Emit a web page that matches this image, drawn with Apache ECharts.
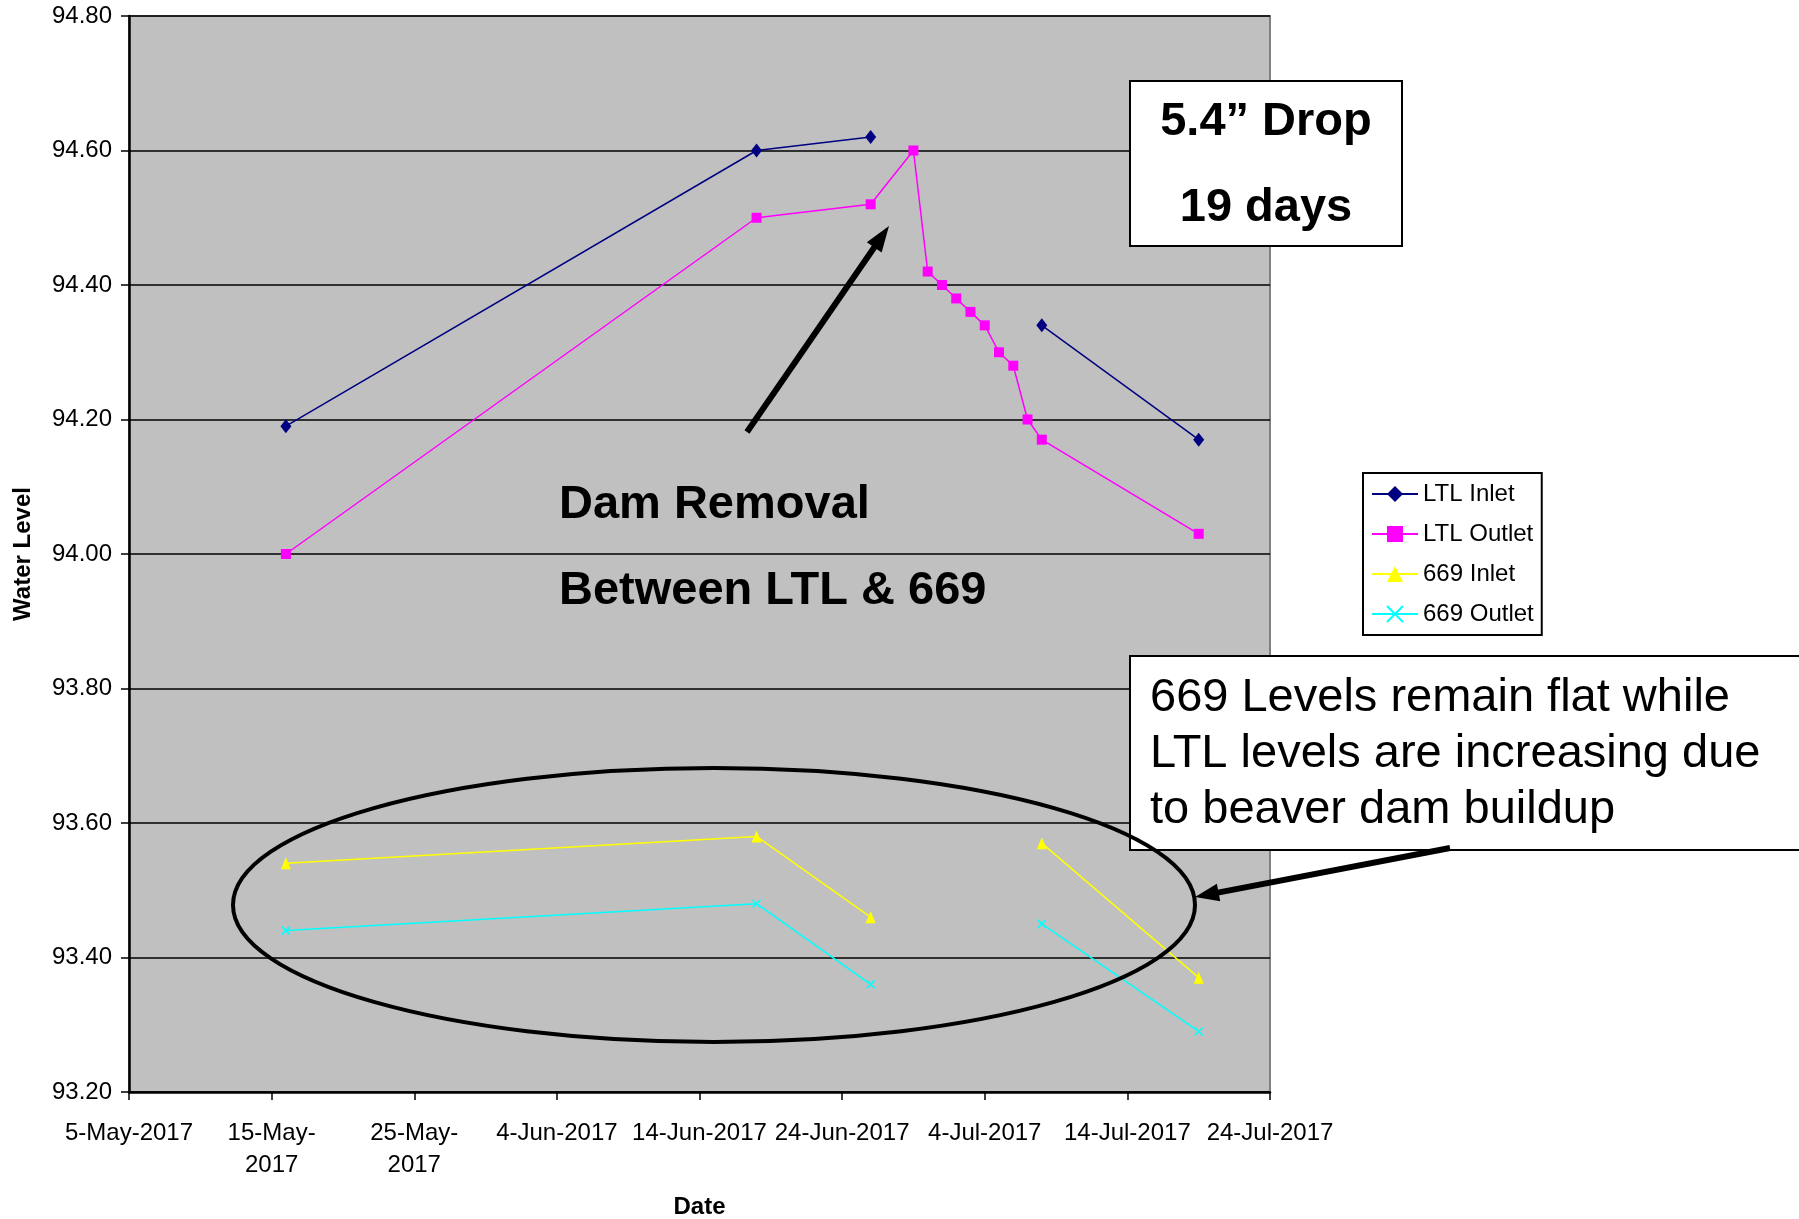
<!DOCTYPE html>
<html>
<head>
<meta charset="utf-8">
<script src="https://cdn.jsdelivr.net/npm/echarts@6/dist/echarts.min.js"></script>
<style>
html,body{margin:0;padding:0;background:#fff;}
#chart{width:1799px;height:1219px;}
</style>
</head>
<body>
<div id="chart"></div>
<script>
// ---- Data ----
const startDate = '2017-05-05';
const dates = ['2017-05-16','2017-06-18','2017-06-26','2017-06-29','2017-06-30','2017-07-01','2017-07-02','2017-07-03','2017-07-04','2017-07-05','2017-07-06','2017-07-07','2017-07-08','2017-07-19'];
const ltlInlet  = [94.19, 94.60, 94.62, null, null, null, null, null, null, null, null, null, 94.34, 94.17];
const ltlOutlet = [94.00, 94.50, 94.52, 94.60, 94.42, 94.40, 94.38, 94.36, 94.34, 94.30, 94.28, 94.20, 94.17, 94.03];
const inlet669  = [93.54, 93.58, 93.46, null, null, null, null, null, null, null, null, null, 93.57, 93.37];
const outlet669 = [93.44, 93.48, 93.36, null, null, null, null, null, null, null, null, null, 93.45, 93.29];
const seriesNames = ['LTL Inlet','LTL Outlet','669 Inlet','669 Outlet'];
const xTickLabels = ['5-May-2017','15-May-\n2017','25-May-\n2017','4-Jun-2017','14-Jun-2017','24-Jun-2017','4-Jul-2017','14-Jul-2017','24-Jul-2017'];
const yMin = 93.2, yMax = 94.8, yStep = 0.2;

// ---- Helpers ----
const DAY = 86400000;
function dayOffset(d){ return (Date.parse(d) - Date.parse(startDate)) / DAY; }
function pairs(vals){ return dates.map((d,i)=>[dayOffset(d), vals[i]==null ? '-' : vals[i]]); }

const FONT = '"Liberation Sans", Arial, sans-serif';

function arrow(x1,y1,x2,y2,w,headLen,headW){
  const dx=x2-x1, dy=y2-y1, L=Math.sqrt(dx*dx+dy*dy), ux=dx/L, uy=dy/L, px=-uy, py=ux;
  const bx=x2-ux*headLen, by=y2-uy*headLen;
  return [
    {type:'line', z:100, shape:{x1:x1,y1:y1,x2:bx+ux*2,y2:by+uy*2}, style:{stroke:'#000',lineWidth:w}},
    {type:'polygon', z:100, shape:{points:[[x2,y2],[bx+px*headW/2,by+py*headW/2],[bx-px*headW/2,by-py*headW/2]]}, style:{fill:'#000'}}
  ];
}

const chart = echarts.init(document.getElementById('chart'), null, {renderer:'canvas'});

const xSymbol = 'path://M0,0L10,10M10,0L0,10';

const option = {
  backgroundColor:'#ffffff',
  animation:false,
  grid:{left:129, top:16, right:529, bottom:127, show:true, backgroundColor:'#C0C0C0', borderColor:'#808080', borderWidth:2, containLabel:false, outerBoundsMode:'none'},
  legend:{
    orient:'vertical', left:1363, top:473,
    data:seriesNames,
    backgroundColor:'#fff', borderColor:'#000', borderWidth:2,
    padding:[7,8,7,8],
    itemWidth:46, itemHeight:20, itemGap:12,
    textStyle:{fontFamily:FONT, fontSize:24, color:'#000', lineHeight:28}
  },
  xAxis:{
    type:'value', min:0, max:80, interval:10,
    name:'Date', nameLocation:'middle', nameGap:103,
    nameTextStyle:{fontFamily:FONT, fontSize:24, fontWeight:'bold', color:'#000'},
    axisLine:{show:true, onZero:false, lineStyle:{color:'#000', width:2.5}},
    axisTick:{show:true, inside:false, length:8, lineStyle:{color:'#000', width:1.5}},
    axisLabel:{fontFamily:FONT, fontSize:24, color:'#000', lineHeight:32, margin:25, showMaxLabel:true, showMinLabel:true,
      formatter:function(v){ return xTickLabels[Math.round(v/10)] || ''; }},
    splitLine:{show:false}
  },
  yAxis:{
    type:'value', min:yMin, max:yMax, interval:yStep,
    name:'Water Level', nameLocation:'middle', nameGap:94, nameRotate:90,
    nameTextStyle:{fontFamily:FONT, fontSize:24, fontWeight:'bold', color:'#000'},
    axisLine:{show:true, lineStyle:{color:'#000', width:2.5}},
    axisTick:{show:true, inside:false, length:8, lineStyle:{color:'#000', width:1.5}},
    axisLabel:{fontFamily:FONT, fontSize:24, color:'#000', margin:17, formatter:function(v){ return v.toFixed(2); }},
    splitLine:{show:true, lineStyle:{color:'#000', width:1.5}}
  },
  series:[
    {name:seriesNames[0], type:'line', data:pairs(ltlInlet), connectNulls:false, symbol:'diamond', symbolSize:[11,14],
      lineStyle:{color:'#000080', width:1.5}, itemStyle:{color:'#000080'}, z:5},
    {name:seriesNames[1], type:'line', data:pairs(ltlOutlet), connectNulls:false, symbol:'rect', symbolSize:10,
      lineStyle:{color:'#FF00FF', width:1.5}, itemStyle:{color:'#FF00FF'}, z:5},
    {name:seriesNames[2], type:'line', data:pairs(inlet669), connectNulls:false, symbol:'triangle', symbolSize:[10,12],
      lineStyle:{color:'#FFFF00', width:1.5}, itemStyle:{color:'#FFFF00'}, z:5},
    {name:seriesNames[3], type:'line', data:pairs(outlet669), connectNulls:false, symbol:xSymbol, symbolSize:8,
      lineStyle:{color:'#00FFFF', width:1.5}, itemStyle:{color:'#00FFFF', borderColor:'#00FFFF', borderWidth:1.5}, z:5}
  ],
  graphic:[
    // Drop box
    {type:'rect', z:90, shape:{x:1130, y:81, width:272, height:165}, style:{fill:'#fff', stroke:'#000', lineWidth:2}},
    {type:'text', z:91, x:1266, y:122, style:{text:'5.4\u201D Drop', font:'bold 47px '+FONT, fill:'#000', textAlign:'center', textVerticalAlign:'middle'}},
    {type:'text', z:91, x:1266, y:208, style:{text:'19 days', font:'bold 47px '+FONT, fill:'#000', textAlign:'center', textVerticalAlign:'middle'}},
    // Dam removal text
    {type:'text', z:91, x:559, y:505, style:{text:'Dam Removal', font:'bold 47px '+FONT, fill:'#000', textAlign:'left', textVerticalAlign:'middle'}},
    {type:'text', z:91, x:559, y:591, style:{text:'Between LTL & 669', font:'bold 47px '+FONT, fill:'#000', textAlign:'left', textVerticalAlign:'middle'}},
    // Ellipse
    {type:'ellipse', z:95, shape:{cx:714, cy:905, rx:481, ry:137}, style:{fill:null, stroke:'#000', lineWidth:4}},
    // Note box
    {type:'rect', z:90, shape:{x:1130, y:656, width:700, height:194}, style:{fill:'#fff', stroke:'#000', lineWidth:2}},
    {type:'text', z:91, x:1150, y:698, style:{text:'669 Levels remain flat while', font:'47px '+FONT, fill:'#000', textAlign:'left', textVerticalAlign:'middle'}},
    {type:'text', z:91, x:1150, y:754, style:{text:'LTL levels are increasing due', font:'47px '+FONT, fill:'#000', textAlign:'left', textVerticalAlign:'middle'}},
    {type:'text', z:91, x:1150, y:810, style:{text:'to beaver dam buildup', font:'47px '+FONT, fill:'#000', textAlign:'left', textVerticalAlign:'middle'}}
  ].concat(arrow(747,432,889,226,6,26,18)).concat(arrow(1450,848,1195,897,6,24,18))
};
chart.setOption(option);
</script>
</body>
</html>
